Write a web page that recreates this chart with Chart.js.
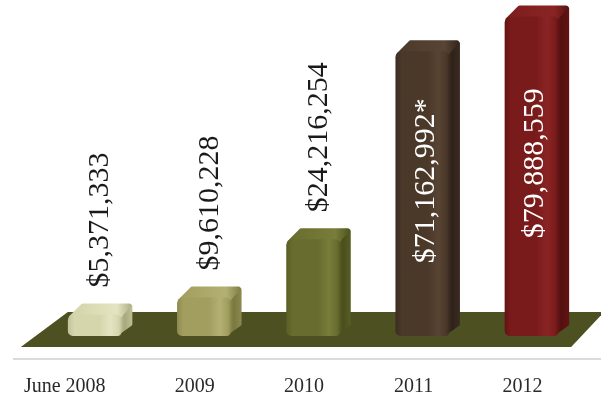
<!DOCTYPE html>
<html><head><meta charset="utf-8">
<script src="https://cdn.jsdelivr.net/npm/chart.js@4"></script>
<style>html,body{margin:0;padding:0;background:#fff;overflow:hidden}#wrap{width:601px;height:401px}</style>
</head><body><div id="wrap"><canvas id="c" width="601" height="401"></canvas></div>
<script>
const categories = ['June 2008', '2009', '2010', '2011', '2012'];
const values = [5371333, 9610228, 24216254, 71162992, 79888559];
const valueLabels = ['$5,371,333', '$9,610,228', '$24,216,254', '$71,162,992*', '$79,888,559'];
const labelInside = [false, false, false, true, true];
const edgeColors = ['#c2c29a', '#8f8c50', '#5a5e25', '#3c2d22', '#631313'];
const baseColors = ['#d6d6ad', '#a19e5f', '#686c2e', '#4a3829', '#7a1b1b'];
const highColors = ['#e4e4c2', '#b3b073', '#787d3a', '#584433', '#8a2424'];
const sideColors = ['#a8a87e', '#7b7840', '#4a4f1b', '#2f2219', '#531010'];
const topColors  = ['#d2d2a8', '#a09d5e', '#676b2d', '#4b392b', '#7c1d1d'];
const floorColor = '#4d5020';
const DEPTH = 12;
const BAR_PCT = 0.49;

function barGradient(ctx) {
  const chart = ctx.chart;
  const i = ctx.dataIndex;
  const xs = chart.scales.x;
  if (!chart.chartArea || !xs || i === undefined) return baseColors[i || 0];
  const cx = xs.getPixelForValue(i);
  const w = (xs.width / categories.length) * BAR_PCT;
  const g = chart.ctx.createLinearGradient(cx - w / 2, 0, cx + w / 2, 0);
  g.addColorStop(0, edgeColors[i]);
  g.addColorStop(0.12, baseColors[i]);
  g.addColorStop(0.6, baseColors[i]);
  g.addColorStop(0.8, highColors[i]);
  g.addColorStop(0.95, baseColors[i]);
  g.addColorStop(1, edgeColors[i]);
  return g;
}

const decorPlugin = {
  id: 'decor',
  beforeDatasetsDraw(chart) {
    const ctx = chart.ctx;
    const meta = chart.getDatasetMeta(0);
    const y0 = chart.scales.y.getPixelForValue(0);
    const first = meta.data[0], last = meta.data[meta.data.length - 1];
    const fl = first.x - first.width / 2, lr = last.x + last.width / 2;
    ctx.save();
    ctx.strokeStyle = '#cfcfcf';
    ctx.lineWidth = 1.5;
    ctx.beginPath();
    ctx.moveTo(13, chart.chartArea.bottom);
    ctx.lineTo(chart.width, chart.chartArea.bottom);
    ctx.stroke();
    ctx.fillStyle = floorColor;
    ctx.beginPath();
    ctx.moveTo(fl - 47, y0 + 11);
    ctx.lineTo(fl, y0 - 24);
    ctx.lineTo(lr + 46, y0 - 24);
    ctx.lineTo(lr + 13, y0 + 11);
    ctx.closePath();
    ctx.fill();
    meta.data.forEach((el, i) => {
      const xL = el.x - el.width / 2, xR = el.x + el.width / 2;
      const yT = el.y, yB = el.base;
      ctx.lineJoin = 'round';
      ctx.lineWidth = 4;
      const sg = ctx.createLinearGradient(xR - 4, 0, xR + DEPTH, 0);
      sg.addColorStop(0, baseColors[i]);
      sg.addColorStop(0.45, sideColors[i]);
      sg.addColorStop(1, edgeColors[i]);
      ctx.fillStyle = sg;
      ctx.strokeStyle = sg;
      ctx.beginPath();
      ctx.moveTo(xR - 5, yT + 2);
      ctx.lineTo(xR + DEPTH - 3, yT - DEPTH + 4);
      ctx.lineTo(xR + DEPTH - 3, yB - DEPTH);
      ctx.lineTo(xR - 5, yB - 2);
      ctx.closePath();
      ctx.fill(); ctx.stroke();
      const tg = ctx.createLinearGradient(xL, 0, xR + DEPTH, 0);
      tg.addColorStop(0, topColors[i]);
      tg.addColorStop(0.75, highColors[i]);
      tg.addColorStop(1, sideColors[i]);
      ctx.fillStyle = tg;
      ctx.strokeStyle = tg;
      ctx.beginPath();
      ctx.moveTo(xL + 3, yT + 3);
      ctx.lineTo(xL + DEPTH + 3, yT - DEPTH + 3);
      ctx.lineTo(xR + DEPTH - 4, yT - DEPTH + 3);
      ctx.lineTo(xR - 3, yT + 3);
      ctx.closePath();
      ctx.fill(); ctx.stroke();
    });
    ctx.restore();
  },
  afterDatasetsDraw(chart) {
    const ctx = chart.ctx;
    const meta = chart.getDatasetMeta(0);
    meta.data.forEach((el, i) => {
      ctx.save();
      ctx.font = '30px "Liberation Serif"';
      ctx.textBaseline = 'middle';
      if (!labelInside[i]) {
        ctx.translate(el.x + 6, el.y - 27);
        ctx.rotate(-Math.PI / 2);
        ctx.textAlign = 'left';
        ctx.fillStyle = '#1a1a1a';
      } else {
        ctx.translate(el.x + 4, (el.y + el.base) / 2 - 13);
        ctx.rotate(-Math.PI / 2);
        ctx.textAlign = 'center';
        ctx.fillStyle = '#ffffff';
      }
      ctx.fillText(valueLabels[i], 0, 0);
      ctx.restore();
    });
  }
};

new Chart(document.getElementById('c'), {
  type: 'bar',
  data: {
    labels: categories,
    datasets: [{
      data: values,
      backgroundColor: barGradient,
      borderWidth: 0,
      borderSkipped: false,
      borderRadius: {topLeft: 6, topRight: 5, bottomLeft: 5, bottomRight: 4},
      barPercentage: BAR_PCT,
      categoryPercentage: 1
    }]
  },
  options: {
    responsive: false,
    animation: false,
    devicePixelRatio: 1,
    layout: {padding: {left: 40, right: 15, top: 0, bottom: 2}},
    plugins: {legend: {display: false}, tooltip: {enabled: false}},
    scales: {
      x: {
        grid: {display: false, drawTicks: true, tickLength: 16},
        border: {display: false},
        ticks: {
          align: 'end', labelOffset: 11, padding: 0, color: '#2a2a2a',
          font: {family: '"Liberation Serif"', size: 20}
        }
      },
      y: {
        display: false,
        min: -5750000,
        max: 84000000
      }
    }
  },
  plugins: [decorPlugin]
});
</script>
</body></html>
